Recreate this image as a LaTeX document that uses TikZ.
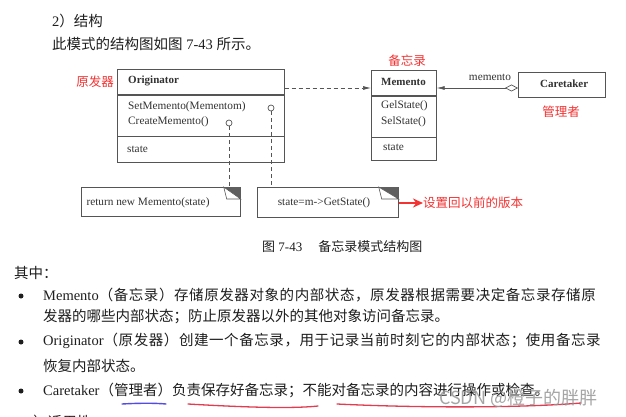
\documentclass[tikz,border=0pt]{standalone}
\usepackage{fontspec}
\setmainfont{Liberation Serif}
\newfontfamily\cjk{Noto Sans CJK SC}
\newfontfamily\cjkj[LetterSpace=4]{Noto Sans CJK SC}
\usetikzlibrary{arrows.meta}

\definecolor{pageink}{RGB}{30,30,30}
\definecolor{diagink}{RGB}{50,50,50}
\definecolor{boxline}{RGB}{85,85,85}
\definecolor{notered}{RGB}{245,50,50}
\definecolor{markred}{RGB}{225,60,80}
\definecolor{markblue}{RGB}{85,75,230}
\definecolor{foldgray}{RGB}{95,95,95}
\definecolor{wmgray}{RGB}{150,150,150}

\tikzset{
  cls/.style={draw=boxline, line width=0.7pt, inner sep=0pt, anchor=north west},
  clsname/.style={inner sep=0pt, anchor=west, text=diagink, font=\fontsize{11}{13}\selectfont\bfseries},
  op/.style={inner sep=0pt, anchor=west, text=diagink, font=\fontsize{11.3}{13}\selectfont},
  port/.style={circle, draw=boxline, line width=0.7pt, inner sep=0pt, minimum size=6pt},
  dep/.style={draw=boxline, line width=0.7pt, dash pattern=on 4pt off 3pt},
  redlbl/.style={inner sep=0pt, text=notered, font=\fontsize{12.5}{14}\selectfont\cjk},
  body/.style={inner sep=0pt, anchor=west, text=pageink, font=\fontsize{14.5}{17}\selectfont},
  bul/.style={circle, fill=pageink, inner sep=0pt, minimum size=5pt},
}

\begin{document}
\begin{tikzpicture}[x=1pt,y=-1pt]
\useasboundingbox (0,0) rectangle (626,417);
\fill[white] (0,0) rectangle (626,417);
\clip (0,0) rectangle (626,417);

% heading
\node[body] (sec) at (52,21) {2{\cjk）结构}};
\node[body] (intro) at (52,44) {{\cjk 此模式的结构图如图} 7-43 {\cjk 所示。}};

% Originator
\node[cls, minimum width=167pt, minimum height=25pt] (orgh) at (117,69) {};
\node[cls, minimum width=167pt, minimum height=41pt] (orgm) at (orgh.south west) {};
\node[cls, minimum width=167pt, minimum height=26pt] (orgs) at (orgm.south west) {};
\node[clsname] at (128,81) {Originator};
\node[op] at (128,107) {SetMemento(Mementom)};
\node[op] at (128,122) {CreateMemento()};
\node[op] at (127,149) {state};
\node[redlbl] (lorg) at (95,82) {原发器};

% Memento
\node[cls, minimum width=65pt, minimum height=25pt] (memh) at (371,70) {};
\node[cls, minimum width=65pt, minimum height=41pt] (memm) at (memh.south west) {};
\node[cls, minimum width=65pt, minimum height=23pt] (mems) at (memm.south west) {};
\node[clsname] at (381,82) {Memento};
\node[op] at (381,106) {GelState()};
\node[op] at (381,122) {SelState()};
\node[op] at (383,147) {state};
\node[redlbl] (lmem) at (407,61) {备忘录};

% Caretaker
\node[cls, minimum width=87pt, minimum height=25pt] (ct) at (518,72) {};
\draw[boxline, line width=1.5pt] (ct.north east) -- (ct.south east) -- (ct.south west);
\node[clsname] at (540,84) {Caretaker};
\node[redlbl] (lct) at (561,112) {管理者};

% links
\coordinate (lk) at (0,88);
\draw[dep, -{Latex[length=8pt,width=4pt]}] (orgh.east |- lk) -- (memh.west |- lk);
\draw[draw=boxline, line width=0.7pt, {Diamond[open,length=13pt,width=7pt]}-{Latex[length=8pt,width=4pt]}] (ct.west |- lk) -- (memh.east |- lk);
\node[op, anchor=center] (role) at (490,77) {memento};

% notes
\node[cls, fill=white, minimum width=159pt, minimum height=29pt] (note1) at (81,187) {};
\node[op, anchor=center] at (148,203) {return new Memento(state)};
\node[cls, fill=white, minimum width=141pt, minimum height=30pt] (note2) at (257,187) {};
\node[op, anchor=center] at (324,203) {state=m->GetState()};
\foreach \n/\w in {note1/17pt, note2/20pt} {
  \fill[foldgray] ([xshift=-\w]\n.north east) -- (\n.north east) -- ([yshift=-12pt]\n.north east) -- cycle;
  \draw[boxline, line width=0.6pt, fill=white] ([xshift=-\w]\n.north east) -- ([xshift=-\w+3pt,yshift=-12pt]\n.north east) -- ([yshift=-12pt]\n.north east) -- cycle;
}
\node[port] (p1) at (271,108) {};
\node[port] (p2) at (229,123) {};
\draw[dep] (p1.south) -- (p1.south |- note2.north);
\draw[dep] (p2.south) -- (p2.south |- note1.north);

% red remark
\node[redlbl, anchor=west] (ver) at (423,203) {设置回以前的版本};
\draw[notered, line width=2pt, -{Stealth[length=10pt,width=9pt]}] (note2.east |- ver) -- (ver.west);

% caption
\node[inner sep=0pt, anchor=west, text=pageink, font=\fontsize{13}{15}\selectfont] (cap) at (262,247) {{\cjk 图} 7-43\hspace{16pt}{\cjk 备忘录模式结构图}};

% text below
\node[body] (qz) at (14,273) {\cjk 其中：};
\node[bul] (b1) at (21,296) {};
\node[body] (t1) at (43,295) {Memento{\cjkj （备忘录）存储原发器对象的内部状态，原发器根据需要决定备忘录存储原}};
\node[body] (t2) at (43,317) {\cjk 发器的哪些内部状态；防止原发器以外的其他对象访问备忘录。};
\node[bul] (b2) at (21,342) {};
\node[body] (t3) at (43,341) {Originator{\cjkj （原发器）创建一个备忘录，用于记录当前时刻它的内部状态；使用备忘录}};
\node[body] (t4) at (43,366) {\cjk 恢复内部状态。};
\node[bul] (b3) at (21,391) {};
\node[body] (t5) at (43,390) {Caretaker{\cjk （管理者）负责保存好备忘录；不能对备忘录的内容进行操作或检查。}};
\node[body] (next) at (26,422) {3{\cjk）适用性}};

% hand marks
\draw[markblue, line width=1.4pt, line cap=round] (122,404) .. controls (140,403) and (155,403) .. (166,404);
\draw[markred, line width=1.3pt, line cap=round] (188,404) .. controls (240,407) and (290,409) .. (318,406);
\draw[markred, line width=1.3pt, line cap=round] (337,404) .. controls (420,408) and (520,408) .. (581,403);

% watermark
\node[inner sep=0pt, anchor=west, text=wmgray, opacity=0.85, font=\fontsize{18}{20}\selectfont\cjk] (wm) at (439,398) {CSDN @橙子的胖胖};
\end{tikzpicture}
\end{document}
